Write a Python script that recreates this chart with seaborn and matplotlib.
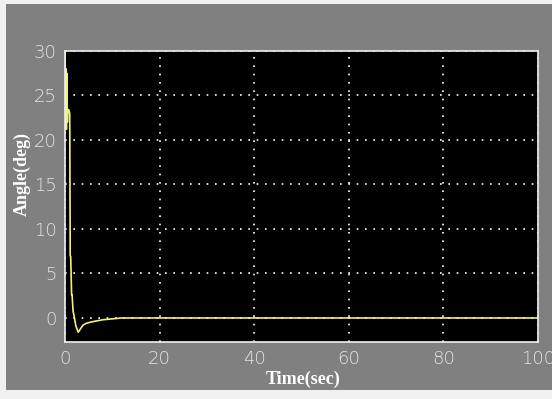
import numpy as np
import pandas as pd
import seaborn as sns
import matplotlib.pyplot as plt
from matplotlib.patches import Rectangle

# angle response
time_sec = [0.0, 0.1, 0.2, 0.3, 0.4, 0.5, 0.6, 0.8, 1.0, 1.1, 1.2, 1.4, 1.5, 1.7, 2.0,
            2.3, 2.8, 3.3, 3.8, 4.5, 5.2, 6.0, 7.0, 8.0, 9.0, 10.0, 11.0, 12.0, 20.0, 100.0]
angle_deg = [30.0, 21.5, 28.0, 21.2, 27.5, 22.0, 23.4, 23.4, 23.0, 7.0, 6.9, 2.6, 2.6, 0.8, 0.0,
             -0.9, -1.6, -1.2, -0.8, -0.6, -0.5, -0.4, -0.3, -0.2, -0.15, -0.1, -0.05, 0.0, 0.0, 0.0]
x_ticks = [0, 20, 40, 60, 80, 100]
y_ticks = [0, 5, 10, 15, 20, 25, 30]

df = pd.DataFrame({"Time": time_sec, "Angle": angle_deg})

sns.set_style("dark")
fig = plt.figure(figsize=(5.52, 3.99), dpi=100, facecolor="#f0f0f0")
# grey scope window with a thin light border
bg = Rectangle((6 / 552, 9 / 399), 1, 1 - 13 / 399, transform=fig.transFigure,
               facecolor="#808080", edgecolor="none", zorder=-10)
fig.add_artist(bg)

ax = fig.add_axes([65 / 552, 1 - 342 / 399, 473 / 552, 291 / 399])
ax.set_zorder(1)
ax.set_facecolor("black")

sns.lineplot(data=df, x="Time", y="Angle", ax=ax, color="#f2f27a", linewidth=1.2)

ax.set_xlim(0, 100)
ax.set_ylim(-2.7, 30)
ax.set_xticks(x_ticks)
ax.set_yticks(y_ticks)
ax.grid(True, color="white", linestyle=(0, (1, 4)), linewidth=1.2)
ax.tick_params(direction="in", colors="white", labelcolor="#e6e6e6",
               labelsize=13, length=4, pad=6)
for lbl in ax.get_xticklabels() + ax.get_yticklabels():
    lbl.set_family("DejaVu Sans")
    lbl.set_fontweight("light")
for sp in ax.spines.values():
    sp.set_color("#f0f0f0")
    sp.set_linewidth(1.2)

ax.set_xlabel("Time(sec)", color="white", fontsize=13, fontweight="bold",
              family="Liberation Serif", va="center")
ax.set_ylabel("Angle(deg)", color="white", fontsize=13, fontweight="bold",
              family="Liberation Serif", va="center")
ax.xaxis.set_label_coords(0.503, -0.13)
ax.yaxis.set_label_coords(-0.091, 0.577)

fig.savefig("out.png", dpi=100, facecolor=fig.get_facecolor())
